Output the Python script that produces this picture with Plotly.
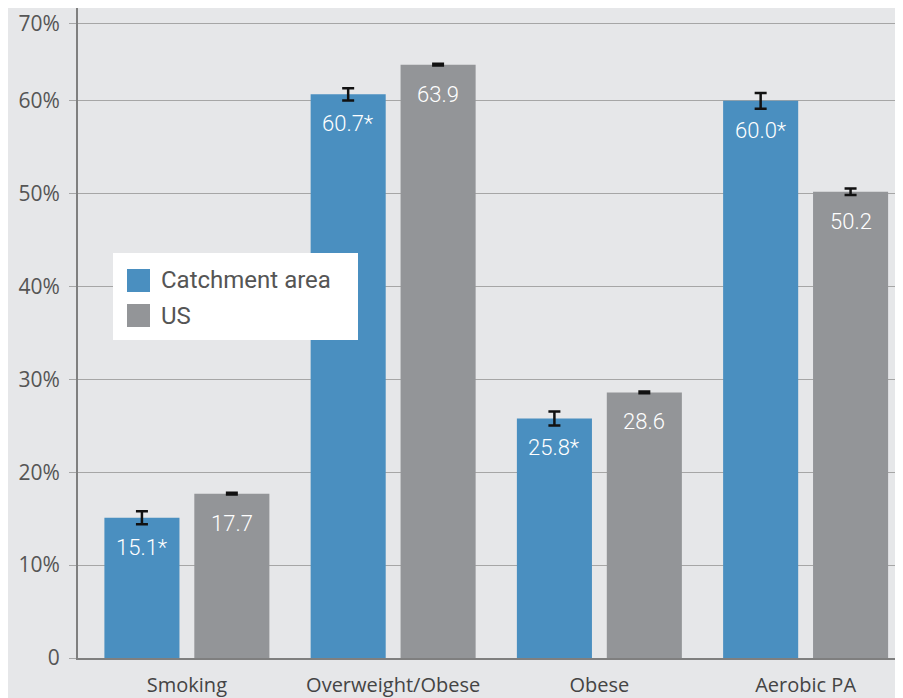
import plotly.graph_objects as go

categories = ["Smoking", "Overweight/Obese", "Obese", "Aerobic PA"]
catchment = [15.1, 60.7, 25.8, 60.0]
catchment_err = [0.7, 0.65, 0.75, 0.85]
catchment_labels = ["15.1*", "60.7*", "25.8*", "60.0*"]
us = [17.7, 63.9, 28.6, 50.2]
us_err = [0.1, 0.1, 0.1, 0.35]
us_labels = ["17.7", "63.9", "28.6", "50.2"]
tick_vals = [0, 10, 20, 30, 40, 50, 60, 68.3]
tick_text = ["0", "10%", "20%", "30%", "40%", "50%", "60%", "70%"]
series_names = ["Catchment area", "US"]

BLUE = "#4a8fc0"
GRAY = "#939598"
BG = "#e6e7e9"
BAR_W = 0.364
GAP_HALF = 0.036

fig = go.Figure()
fig.add_trace(go.Bar(
    name=series_names[0], x=list(range(len(categories))), y=catchment,
    marker=dict(color=BLUE, line=dict(width=0)),
    width=BAR_W, offset=-(BAR_W + GAP_HALF),
    error_y=dict(type="data", array=catchment_err, color="#111111", thickness=2.5, width=6),
))
fig.add_trace(go.Bar(
    name=series_names[1], x=list(range(len(categories))), y=us,
    marker=dict(color=GRAY, line=dict(width=0)),
    width=BAR_W, offset=GAP_HALF,
    error_y=dict(type="data", array=us_err, color="#111111", thickness=2.5, width=6),
))

centre = BAR_W / 2 + GAP_HALF
for i in range(len(categories)):
    fig.add_annotation(x=i - centre, y=catchment[i], text=catchment_labels[i],
                       showarrow=False, yanchor="top", yshift=-15,
                       font=dict(family="Roboto", size=22, color="white", weight=300))
    fig.add_annotation(x=i + centre, y=us[i], text=us_labels[i],
                       showarrow=False, yanchor="top", yshift=-15,
                       font=dict(family="Roboto", size=22, color="white", weight=300))

# legend box (drawn manually to get large swatches)
PW, PH = 833.0, 650.0
def px(xp):
    return (xp - 78) / PW
def py(yp):
    return (658 - yp) / PH

fig.add_shape(type="rect", xref="paper", yref="paper",
              x0=px(113), x1=px(358), y0=py(340), y1=py(253),
              fillcolor="white", line=dict(width=0), layer="above")
for k, (name, col, yc) in enumerate(zip(series_names, [BLUE, GRAY], [280.5, 315.5])):
    fig.add_shape(type="rect", xref="paper", yref="paper",
                  x0=px(127), x1=px(150), y0=py(yc + 11.5), y1=py(yc - 11.5),
                  fillcolor=col, line=dict(width=0), layer="above")
    fig.add_annotation(xref="paper", yref="paper", x=px(159), y=py(yc),
                       xanchor="left", yanchor="middle", text=name, showarrow=False,
                       font=dict(family="Roboto", size=24, color="#555555"))

fig.update_layout(
    width=903, height=698,
    paper_bgcolor=BG, plot_bgcolor=BG,
    margin=dict(l=70, r=0, t=0, b=48),
    barmode="overlay",
    showlegend=False,
    xaxis=dict(
        range=[-0.528, 3.511],
        tickvals=list(range(len(categories))), ticktext=categories,
        showgrid=False, zeroline=False,
        showline=True, linecolor="#7f7f7f", linewidth=2,
        ticks="", ticklabelstandoff=8,
        tickfont=dict(family="Open Sans", size=20, color="#444444"),
    ),
    yaxis=dict(
        range=[0, 70],
        tickvals=tick_vals, ticktext=tick_text,
        showgrid=True, gridcolor="#a6a6a6", gridwidth=1,
        zeroline=False,
        showline=True, linecolor="#7f7f7f", linewidth=2,
        ticks="outside", ticklen=7, tickcolor="#a6a6a6",
        ticklabelstandoff=5,
        tickfont=dict(family="Open Sans", size=21, color="#555555"),
    ),
)

fig.write_html("out.html")
